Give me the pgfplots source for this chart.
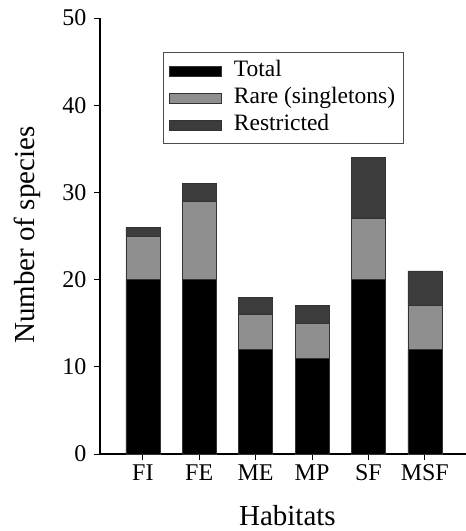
\documentclass[border=0pt]{standalone}
\usepackage{pgfplots}
\pgfplotsset{compat=1.18}
\usepackage{fontspec}
\setmainfont{Liberation Serif}
\definecolor{rare}{HTML}{8F8F8F}
\definecolor{restr}{HTML}{3C3C3C}
\begin{document}
\begin{tikzpicture}
\begin{axis}[
  scale only axis,
  width=366pt, height=436pt,
  ybar stacked,
  bar width=34pt,
  xmin=-0.76, xmax=5.73,
  ymin=0, ymax=50,
  xtick={0,1,2,3,4,5},
  xticklabels={FI,FE,ME,MP,SF,MSF},
  ytick={0,10,20,30,40,50},
  yticklabels={0,10,20,30,40,50},
  axis x line*=bottom,
  axis y line*=left,
  axis line style={line width=1.6pt},
  tick style={black, line width=0.8pt},
  tick align=outside,
  major tick length=6pt,
  tick label style={font=\fontsize{24}{26}\selectfont},
  yticklabel style={xshift=-4pt},
  xticklabel style={yshift=-1pt},
  xlabel={Habitats},
  ylabel={Number of species},
  xlabel style={at={(axis description cs:0.512,0)}, anchor=center, yshift=-62pt, inner sep=1pt},
  ylabel style={at={(axis description cs:0,0.502)}, anchor=center, yshift=73pt},
  label style={font=\fontsize{29}{31}\selectfont},
  legend style={at={(rel axis cs:0.172,0.922)}, anchor=north west,
    draw=black!70, line width=0.8pt, font=\fontsize{23.5}{25}\selectfont,
    row sep=0pt, inner xsep=6pt, inner ysep=5pt,
    nodes={inner ysep=2pt, text height=17pt, text depth=6pt}},
  legend cell align=left,
  legend image code/.code={\draw[#1, line width=0.6pt] (0pt,-5pt) rectangle (52pt,5pt);},
]
\addplot[fill=black, draw=black!80, line width=0.6pt] coordinates {(0,20) (1,20) (2,12) (3,11) (4,20) (5,12)};
\addplot[fill=rare, draw=black!80, line width=0.6pt] coordinates {(0,5) (1,9) (2,4) (3,4) (4,7) (5,5)};
\addplot[fill=restr, draw=black!80, line width=0.6pt] coordinates {(0,1) (1,2) (2,2) (3,2) (4,7) (5,4)};
\legend{\hspace*{10pt}Total, \hspace*{10pt}Rare (singletons), \hspace*{10pt}Restricted}
\coordinate (O) at (rel axis cs:0,0);
\end{axis}
\pgfresetboundingbox
\path (O) ++(-100pt,-77pt) rectangle ++(466pt,531pt);
\end{tikzpicture}
\end{document}
